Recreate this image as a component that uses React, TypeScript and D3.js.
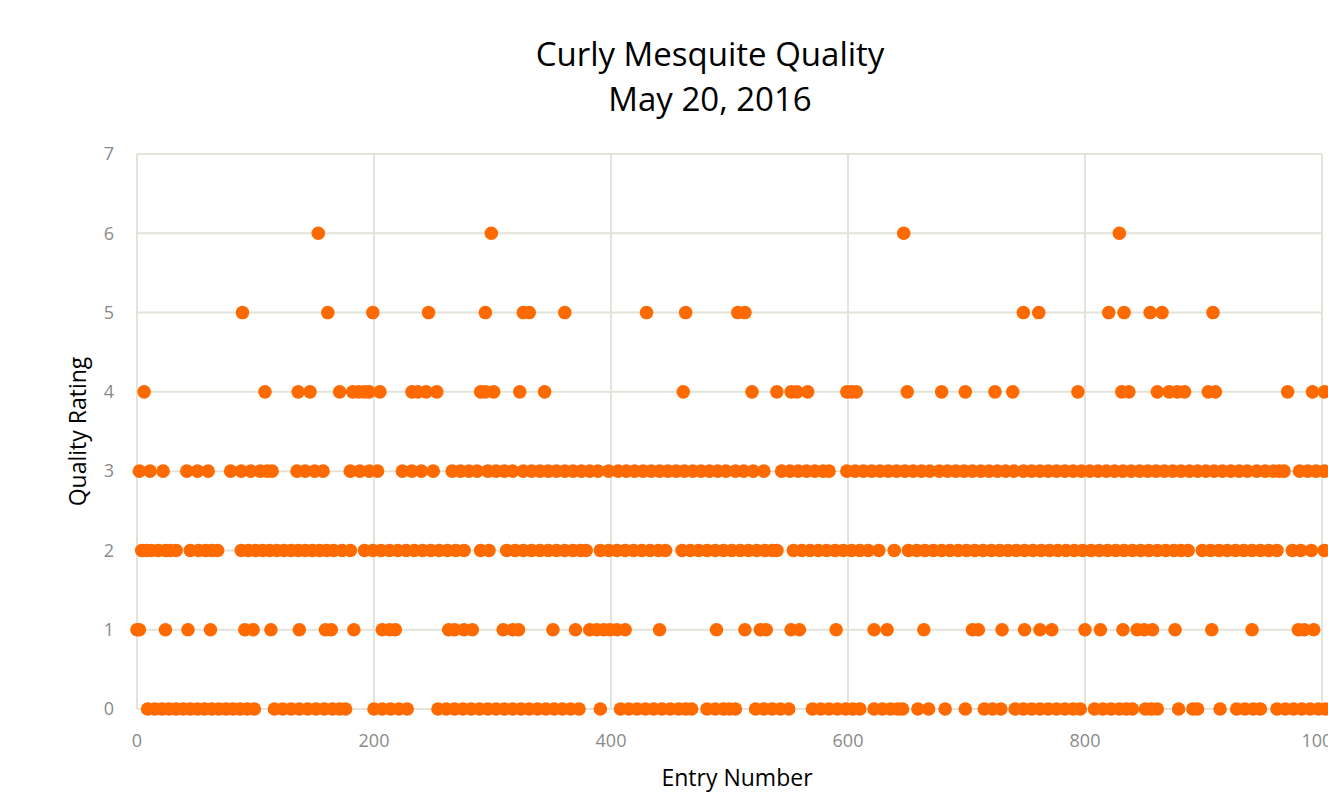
import React from "react";
import * as d3 from "d3";

// entry numbers, one list per quality rating
const rating6 = [153, 299, 647, 829];
const rating5 = [89, 161, 199, 246, 294, 326, 331, 361, 430, 463, 507, 513, 748, 761, 820, 833, 855, 865, 908];
const rating4 = [
  6, 108, 136, 146, 171, 182, 187, 192, 196, 205, 232, 237, 244, 253, 290, 294, 301, 323, 344, 461,
  519, 540, 552, 557, 566, 599, 603, 607, 650, 679, 699, 724, 739, 794, 831, 837, 861, 871, 878, 884,
  904, 910, 971, 992, 1002,
];
const rating3 = [
  2, 11, 22, 42, 51, 60, 79, 88, 96, 104, 110, 114, 135, 142, 150, 157, 180, 188, 196, 203,
  224, 232, 240, 250, 266, 273, 280, 287, 296, 303, 310, 317, 326, 333, 340, 347, 354, 361, 368, 375,
  382, 389, 398, 406, 413, 420, 427, 434, 441, 448, 455, 462, 469, 476, 483, 490, 497, 505, 512, 520,
  529, 544, 551, 558, 565, 572, 579, 584, 599, 606, 613, 620, 627, 634, 641, 648, 655, 662, 669, 677,
  684, 691, 698, 705, 712, 719, 726, 733, 740, 748, 755, 762, 769, 776, 783, 790, 797, 804, 811, 818,
  825, 832, 839, 846, 853, 860, 867, 874, 881, 888, 895, 902, 909, 916, 923, 930, 937, 945, 952, 959,
  964, 968, 981, 988, 995, 1002,
];
const rating2 = [
  4, 8, 12, 18, 24, 28, 33, 45, 52, 58, 63, 68, 88, 94, 100, 106, 112, 118, 124, 130,
  136, 142, 148, 154, 160, 166, 173, 180, 192, 199, 206, 213, 220, 227, 234, 241, 248, 255, 262, 269,
  276, 290, 297, 312, 319, 326, 333, 340, 347, 354, 361, 368, 374, 379, 391, 398, 405, 412, 419, 426,
  433, 440, 446, 460, 467, 474, 481, 488, 495, 502, 509, 516, 523, 530, 536, 540, 554, 561, 568, 575,
  582, 589, 596, 603, 610, 617, 626, 639, 651, 658, 665, 672, 679, 686, 693, 700, 707, 714, 721, 728,
  735, 742, 749, 756, 763, 770, 777, 784, 791, 798, 805, 812, 819, 826, 833, 840, 847, 854, 861, 868,
  875, 881, 887, 899, 906, 913, 920, 927, 934, 941, 948, 955, 962, 975, 982, 991, 1002,
];
const rating1 = [
  0, 2, 24, 43, 62, 91, 98, 113, 137, 159, 164, 183, 207, 213, 218, 263, 268, 276, 283, 309,
  317, 322, 351, 370, 382, 388, 394, 399, 405, 412, 441, 489, 513, 526, 531, 552, 559, 590, 622, 633,
  664, 705, 710, 730, 749, 762, 772, 800, 813, 832, 844, 850, 857, 876, 907, 941, 980, 985, 993,
];
const rating0 = [
  9, 15, 21, 27, 33, 39, 45, 51, 57, 63, 69, 75, 81, 87, 93, 99, 116, 123, 130, 137,
  144, 151, 158, 165, 171, 176, 200, 207, 214, 221, 228, 254, 261, 268, 275, 282, 289, 296, 303, 310,
  317, 324, 331, 338, 345, 352, 359, 366, 373, 391, 408, 415, 422, 429, 436, 443, 450, 457, 463, 468,
  481, 488, 495, 500, 505, 522, 529, 536, 543, 550, 570, 577, 584, 591, 598, 604, 610, 622, 629, 636,
  642, 646, 659, 668, 682, 699, 715, 722, 729, 741, 748, 755, 762, 769, 776, 783, 790, 796, 808, 815,
  822, 829, 835, 840, 851, 856, 861, 879, 891, 895, 914, 928, 935, 942, 948, 962, 969, 976, 983, 990,
  997, 1003,
];

const ratings = [rating0, rating1, rating2, rating3, rating4, rating5, rating6];
const xTicks = [0, 200, 400, 600, 800, 1000];
const yTicks = [0, 1, 2, 3, 4, 5, 6, 7];

const font = "'Open Sans', sans-serif";

export default function App() {
  const x = d3.scaleLinear().domain([0, 1000]).range([137, 1322]);
  const y = d3.scaleLinear().domain([0, 7]).range([709, 154]);

  const points = ratings.flatMap((list, r) => list.map((e) => ({ entry: e, rating: r })));

  return (
    <div style={{ position: "fixed", left: 0, top: 0, width: 1328, height: 795, overflow: "hidden", background: "#fff" }}>
      <svg width={1500} height={795} style={{ display: "block", fontFamily: font }}>
        {yTicks.map((t) => (
          <line key={"h" + t} x1={x(0)} x2={x(1000)} y1={y(t)} y2={y(t)} stroke="#e3e3da" strokeWidth={2} />
        ))}
        {xTicks.map((t) => (
          <line key={"v" + t} x1={x(t)} x2={x(t)} y1={y(0)} y2={y(7)} stroke="#e3e3da" strokeWidth={2} />
        ))}
        {yTicks.map((t) => (
          <text key={"yl" + t} x={114} y={y(t)} dy="0.35em" textAnchor="end" fontSize={18} fill="#8a8a8a">
            {t}
          </text>
        ))}
        {/* the 1000 label is clipped by the right edge, as in the original */}
        {xTicks.map((t) => (
          <text key={"xl" + t} x={x(t)} y={747} textAnchor="middle" fontSize={18} fill="#8a8a8a">
            {t}
          </text>
        ))}
        {points.map((p, i) => (
          <circle key={i} cx={x(p.entry)} cy={y(p.rating)} r={6.8} fill="#ff6a00" />
        ))}
        <text x={710} y={66} textAnchor="middle" fontSize={33} fill="#000">
          Curly Mesquite Quality
        </text>
        <text x={710} y={111} textAnchor="middle" fontSize={33} fill="#000">
          May 20, 2016
        </text>
        <text x={737} y={786} textAnchor="middle" fontSize={23} fill="#000">
          Entry Number
        </text>
        <text transform={`translate(86,${y(3.5)}) rotate(-90)`} textAnchor="middle" fontSize={23} fill="#000">
          Quality Rating
        </text>
      </svg>
    </div>
  );
}
